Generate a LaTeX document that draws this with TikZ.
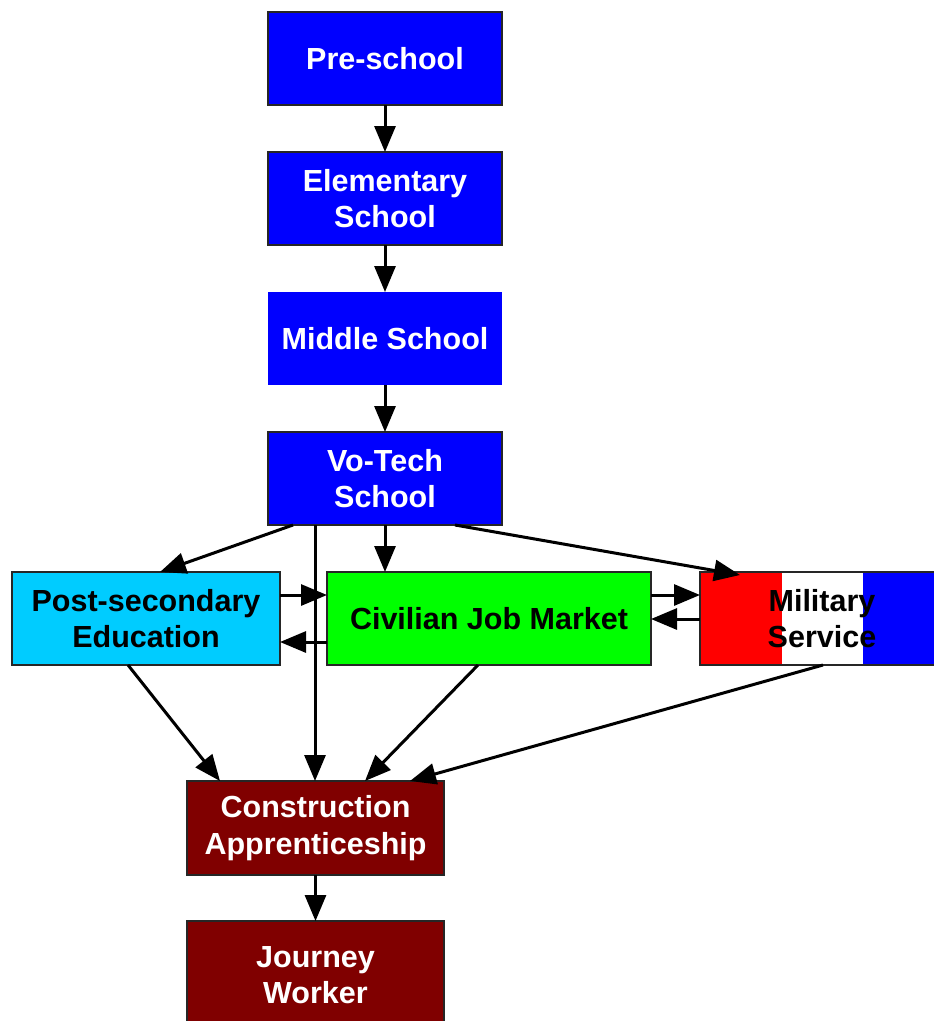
\documentclass[tikz,border=0pt]{standalone}
\usepackage{fontspec}
\setmainfont{Liberation Sans}
\usetikzlibrary{positioning,arrows.meta}
\definecolor{schoolblue}{HTML}{0000FF}
\definecolor{postcyan}{HTML}{00CCFF}
\definecolor{jobgreen}{HTML}{00FF00}
\definecolor{tradered}{HTML}{800000}
\definecolor{flagred}{HTML}{FF0000}
\begin{document}
\begin{tikzpicture}[x=1pt, y=-1pt, node distance={47pt},
    main/.style = {draw=black!85, line width=1.3pt, minimum width=234pt, minimum height=93pt,
                   inner sep=0pt, outer sep=0pt, align=center, text=white,
                   font=\fontsize{30.5}{36.5}\selectfont\bfseries},
    arr/.style = {line width=3pt, -{Triangle[length=26pt,width=21pt]}}]
    \useasboundingbox (0,0) rectangle (934,1021);

    \node[main, fill=schoolblue] (pre)               at (385,58.5) {Pre-school};
    \node[main, fill=schoolblue] (elem) [below=of pre]  {Elementary\\School};
    \node[main, fill=schoolblue, draw=none] (mid) [below=of elem] {Middle School};
    \node[main, fill=schoolblue] (vot)  [below=of mid]  {Vo-Tech\\School};

    \node[main, fill=postcyan, text=black, minimum width=268pt] (post) at (146,618.5) {Post-secondary\\Education};
    \node[main, fill=jobgreen, text=black, minimum width=324pt] (civ)  at (489,618.5) {Civilian Job Market};
    \node[main, text=black, minimum width=250pt,
          path picture={
            \fill[flagred] (path picture bounding box.north west) rectangle ++(82,93);
            \fill[schoolblue] ([xshift=163pt]path picture bounding box.north west) rectangle (path picture bounding box.south east);
          }] (mil) at (825,618.5) {\hspace*{-6pt}Military\\\hspace*{-6pt}Service};

    \node[main, fill=tradered, minimum width=257pt, minimum height=94pt] (app) at (315.5,828) {Construction\\Apprenticeship};
    \node[main, fill=tradered, minimum width=257pt, minimum height=108pt] (jw) at (315.5,975) {Journey\\Worker};

    \draw[arr] (pre) to (elem);
    \draw[arr] (elem) to (mid);
    \draw[arr] (mid) to (vot);
    \draw[arr] ([xshift=25pt]vot.south west) to ([xshift=148pt]post.north west);
    \draw[arr] (vot.south) to (vot.south |- civ.north);
    \draw[arr] ([xshift=-47pt]vot.south east) to ([xshift=40pt,yshift=-3pt]mil.north west);
    \draw[arr] ([xshift=47pt]vot.south west) to ([xshift=47pt]vot.south west |- app.north);
    \draw[arr] ([yshift=-23pt]post.north east) to ([yshift=-23pt]civ.north west);
    \draw[arr] ([yshift=23pt]civ.south west) to ([yshift=23pt]post.south east);
    \draw[arr] ([yshift=-23pt]civ.north east) to ([yshift=-23pt]mil.north west);
    \draw[arr] ([yshift=-47pt]mil.north west) to ([yshift=-47pt]civ.north east);
    \draw[arr] ([xshift=116pt]post.south west) to ([xshift=33pt]app.north west);
    \draw[arr] ([xshift=151pt]civ.south west) to ([xshift=178pt]app.north west);
    \draw[arr] ([xshift=123pt]mil.south west) to ([xshift=223pt]app.north west);
    \draw[arr] (app) to (jw);
\end{tikzpicture}
\end{document}
